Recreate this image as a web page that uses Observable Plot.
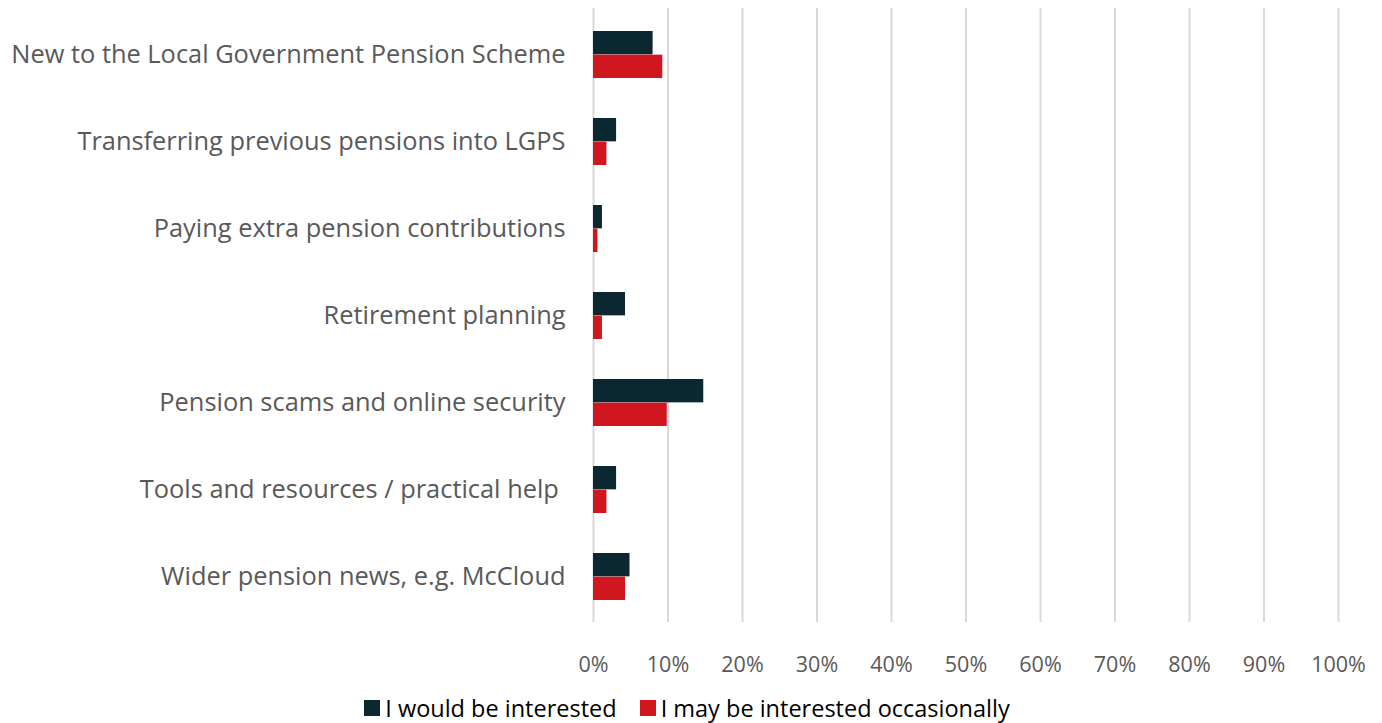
<!DOCTYPE html>
<html>
<head>
<meta charset="utf-8">
<script src="https://cdn.jsdelivr.net/npm/d3@7"></script>
<script src="https://cdn.jsdelivr.net/npm/@observablehq/plot@0.6"></script>
<style>
  body { margin: 0; background: #fff; font-family: "Open Sans", sans-serif; }
  #chart { width: 1382px; }
  .legend { display: flex; justify-content: center; gap: 23px; font-size: 23.5px; color: #000; margin-top: 1px; margin-left: -8px; line-height: 30px; }
  .legend span.item { display: flex; align-items: center; }
  .legend i { display: inline-block; width: 16px; height: 16px; margin-right: 5px; }
</style>
</head>
<body>
<div id="chart"></div>
<script>
const categories = [
  "New to the Local Government Pension Scheme",
  "Transferring previous pensions into LGPS",
  "Paying extra pension contributions",
  "Retirement planning",
  "Pension scams and online security",
  "Tools and resources / practical help ",
  "Wider pension news, e.g. McCloud"
];
const seriesNames = ["I would be interested", "I may be interested occasionally"];
const seriesColors = ["#0b2830", "#d0161f"];
const wouldBeInterested = [8.0, 3.1, 1.2, 4.3, 14.8, 3.1, 4.9];
const mayBeInterested = [9.3, 1.8, 0.6, 1.2, 9.9, 1.8, 4.3];
const xTicks = [0, 10, 20, 30, 40, 50, 60, 70, 80, 90, 100];

const rows = [];
categories.forEach((c, i) => {
  rows.push({category: c, series: seriesNames[0], value: wouldBeInterested[i]});
  rows.push({category: c, series: seriesNames[1], value: mayBeInterested[i]});
});

const height = 692, marginTop = 9, marginBottom = 70;
const step = (height - marginTop - marginBottom) / categories.length;
const paddingInner = 0.46;
const half = step * (1 - paddingInner) / 2;

const plot = Plot.plot({
  width: 1382,
  height,
  marginLeft: 593,
  marginRight: 44,
  marginTop,
  marginBottom,
  style: {fontFamily: "Open Sans, sans-serif", color: "#595959", background: "#fff"},
  x: {domain: [0, 100], ticks: xTicks, tickFormat: d => d + "%", label: null},
  y: {domain: categories, paddingInner, paddingOuter: paddingInner / 2, label: null},
  color: {domain: seriesNames, range: seriesColors},
  marks: [
    Plot.ruleX(xTicks, {stroke: "#d9d9d9", strokeWidth: 2, insetTop: -1}),
    Plot.barX(rows.filter(d => d.series === seriesNames[0]), {y: "category", x: "value", fill: "series", insetBottom: half}),
    Plot.barX(rows.filter(d => d.series === seriesNames[1]), {y: "category", x: "value", fill: "series", insetTop: half}),
    Plot.axisX({ticks: xTicks, tickFormat: d => d + "%", tickSize: 0, tickPadding: 34, fontSize: 21.5, fill: "#595959", label: null}),
    Plot.axisY({tickSize: 0, tickPadding: 28, fontSize: 25.4, fill: "#595959", label: null})
  ]
});
document.getElementById("chart").appendChild(plot);

const legend = document.createElement("div");
legend.className = "legend";
seriesNames.forEach((s, i) => {
  const item = document.createElement("span");
  item.className = "item";
  const sw = document.createElement("i");
  sw.style.background = seriesColors[i];
  item.appendChild(sw);
  item.appendChild(document.createTextNode(s));
  legend.appendChild(item);
});
document.getElementById("chart").appendChild(legend);
</script>
</body>
</html>
